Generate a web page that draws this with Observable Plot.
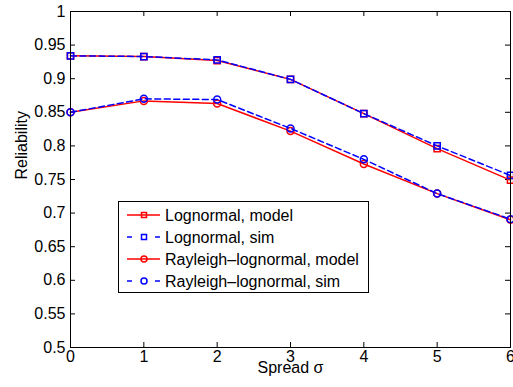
<!DOCTYPE html>
<html>
<head>
<meta charset="utf-8">
<script src="https://cdn.jsdelivr.net/npm/d3@7"></script>
<script src="https://cdn.jsdelivr.net/npm/@observablehq/plot@0.6"></script>
<style>
  html, body { margin: 0; padding: 0; background: #fff; }
  #wrap { position: relative; width: 513px; height: 387px; font-family: "Liberation Sans", Arial, sans-serif; }
  #legend { position: absolute; left: 0; top: 0; }
</style>
</head>
<body>
<div id="wrap"></div>
<script>
const spread = [0, 1, 2, 3, 4, 5, 6];
const lognormalModel = [0.934, 0.933, 0.927, 0.899, 0.848, 0.796, 0.749];
const lognormalSim   = [0.934, 0.933, 0.928, 0.899, 0.848, 0.800, 0.756];
const rayleighModel  = [0.850, 0.867, 0.863, 0.822, 0.773, 0.729, 0.690];
const rayleighSim    = [0.850, 0.870, 0.869, 0.826, 0.780, 0.729, 0.691];
const xTicks = [0, 1, 2, 3, 4, 5, 6];
const yTicks = [0.5, 0.55, 0.6, 0.65, 0.7, 0.75, 0.8, 0.85, 0.9, 0.95, 1];
const seriesNames = ["Lognormal, model", "Lognormal, sim", "Rayleigh\u2013lognormal, model", "Rayleigh\u2013lognormal, sim"];
const xLabel = "Spread \u03c3";
const yLabel = "Reliability";

const W = 513, H = 387;
const mL = 70, mR = 3, mT = 11, mB = 40;
const innerW = W - mL - mR, innerH = H - mT - mB;
const tk = 5;
const FS = 16;

const mk = (vals) => spread.map((x, i) => ({x, y: vals[i]}));
const series = [
  {data: mk(lognormalModel), color: "#ff0000", dash: null, symbol: "square"},
  {data: mk(lognormalSim), color: "#0000ff", dash: "6,3.5", symbol: "square"},
  {data: mk(rayleighModel), color: "#ff0000", dash: null, symbol: "circle"},
  {data: mk(rayleighSim), color: "#0000ff", dash: "6,3.5", symbol: "circle"}
];

const marks = [];
for (const s of series) {
  marks.push(Plot.line(s.data, {x: "x", y: "y", stroke: s.color, strokeWidth: 1.5, strokeDasharray: s.dash}));
  marks.push(Plot.dot(s.data, {x: "x", y: "y", stroke: s.color, strokeWidth: 1.5, fill: "none", symbol: s.symbol, r: 3.5}));
}

const plot = Plot.plot({
  width: W, height: H,
  marginLeft: mL, marginRight: mR, marginTop: mT, marginBottom: mB,
  style: {fontFamily: "'Liberation Sans', Arial, sans-serif", fontSize: FS + "px", color: "#000", background: "#fff"},
  x: {domain: [0, 6]},
  y: {domain: [0.5, 1]},
  marks: [
    Plot.axisX(xTicks, {tickSize: 0, tickPadding: 3, fontSize: FS, label: null, tickFormat: d => String(d)}),
    Plot.axisY(yTicks, {tickSize: 0, tickPadding: 5, fontSize: FS, label: null, tickFormat: d => String(+d.toFixed(2))}),
    Plot.tickX(xTicks, {x: d => d, insetTop: innerH - tk, stroke: "#000"}),
    Plot.tickX(xTicks, {x: d => d, insetBottom: innerH - tk, stroke: "#000"}),
    Plot.tickY(yTicks, {y: d => d, insetRight: innerW - tk, stroke: "#000"}),
    Plot.tickY(yTicks, {y: d => d, insetLeft: innerW - tk, stroke: "#000"}),
    ...marks,
    Plot.frame({stroke: "#000", strokeWidth: 1}),
    Plot.text([xLabel], {frameAnchor: "bottom", lineAnchor: "bottom", dy: 25, fontSize: FS, fill: "#000"}),
    Plot.text([yLabel], {frameAnchor: "left", dx: -49, rotate: -90, fontSize: FS, fill: "#000"})
  ]
});

const wrap = document.getElementById("wrap");
wrap.appendChild(plot);

// Legend overlay
const lg = d3.select(wrap).append("svg").attr("id", "legend")
  .attr("width", W).attr("height", H)
  .style("font-family", "'Liberation Sans', Arial, sans-serif").style("font-size", FS + "px");
const bx = 118.5, by = 201.5, bw = 250, bh = 91;
lg.append("rect").attr("x", bx).attr("y", by).attr("width", bw).attr("height", bh)
  .attr("fill", "#fff").attr("stroke", "#000").attr("stroke-width", 1);
const rowY = [215, 237, 259, 281];
seriesNames.forEach((name, i) => {
  const s = series[i];
  const g = lg.append("g");
  const y = rowY[i];
  if (s.dash) {
    g.append("line").attr("x1", 127).attr("x2", 132).attr("y1", y).attr("y2", y)
      .attr("stroke", s.color).attr("stroke-width", 1.5);
    g.append("line").attr("x1", 155).attr("x2", 160).attr("y1", y).attr("y2", y)
      .attr("stroke", s.color).attr("stroke-width", 1.5);
  } else {
    g.append("line").attr("x1", 127).attr("x2", 160).attr("y1", y).attr("y2", y)
      .attr("stroke", s.color).attr("stroke-width", 1.5);
  }
  if (s.symbol === "square") {
    g.append("rect").attr("x", 141.5).attr("y", y - 2.5).attr("width", 5).attr("height", 5)
      .attr("fill", "none").attr("stroke", s.color).attr("stroke-width", 1.5);
  } else {
    g.append("circle").attr("cx", 144).attr("cy", y).attr("r", 3)
      .attr("fill", "none").attr("stroke", s.color).attr("stroke-width", 1.5);
  }
  g.append("text").attr("x", 165).attr("y", y).attr("dy", "0.35em").attr("fill", "#000").text(name);
});
</script>
</body>
</html>
